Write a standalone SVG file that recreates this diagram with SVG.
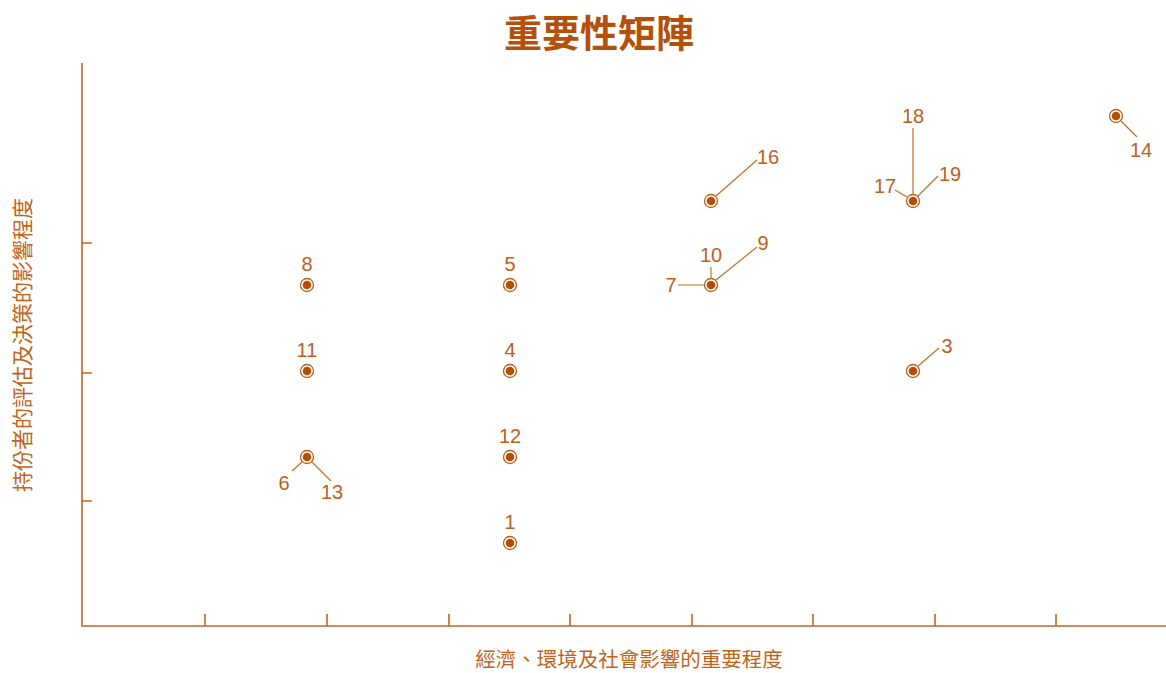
<svg xmlns="http://www.w3.org/2000/svg" width="1166" height="673" viewBox="0 0 1166 673">
<style>
.axis{stroke:#c0671f;stroke-width:1.6;fill:none}
.ld{stroke:#c0702c;stroke-width:1.2;fill:none}
.ring{fill:none;stroke:#bb5f17;stroke-width:1.3}
.dot{fill:#b24f00}
.num{font-family:"Liberation Sans",Arial,sans-serif;font-size:20px;fill:#bb6020;text-anchor:middle}
.cjk{font-family:"Noto Sans CJK TC","Noto Sans CJK SC",sans-serif;fill:#bf6419}
</style>
<defs>
<g id="pt"><circle r="6.5" class="ring"/><circle r="4.3" class="dot"/></g>
</defs>
<rect width="1166" height="673" fill="#ffffff"/>
<text class="cjk" x="599" y="47" font-size="38" font-weight="bold" text-anchor="middle" style="fill:#b5500a">重要性矩陣</text>
<g id="axes">
<path class="axis" d="M82 63V626H1166"/>
<path class="axis" d="M82 243H92M82 373H92M82 501H92"/>
<path class="axis" d="M205 626V614M327 626V614M449 626V614M570 626V614M692 626V614M813 626V614M935 626V614M1056 626V614"/>
</g>
<text class="cjk" font-size="21" text-anchor="middle" transform="translate(30 345) rotate(-90)">持份者的評估及決策的影響程度</text>
<text class="cjk" x="629" y="667" font-size="20.5" text-anchor="middle">經濟、環境及社會影響的重要程度</text>
<g id="connectors">
<path class="ld" d="M302 462L292 471M312 462L331 481"/>
<path class="ld" d="M716 196L757 160"/>
<path class="ld" d="M704 285H678M711 278V267M716 280L757 247"/>
<path class="ld" d="M918 366L939 348"/>
<path class="ld" d="M913 194V128M907 197L895 190M918 196L938 176"/>
<path class="ld" d="M1121 121L1137 137"/>
</g>
<g id="n8"><use href="#pt" x="307" y="285"/><text class="num" x="307" y="271">8</text></g>
<g id="n5"><use href="#pt" x="510" y="285"/><text class="num" x="510" y="271">5</text></g>
<g id="n11"><use href="#pt" x="307" y="371"/><text class="num" x="307" y="357">11</text></g>
<g id="n4"><use href="#pt" x="510" y="371"/><text class="num" x="510" y="357">4</text></g>
<g id="n12"><use href="#pt" x="510" y="457"/><text class="num" x="510" y="443">12</text></g>
<g id="n1"><use href="#pt" x="510" y="543"/><text class="num" x="510" y="529">1</text></g>
<g id="n6-13"><use href="#pt" x="307" y="457"/><text class="num" x="284" y="490">6</text><text class="num" x="332" y="499">13</text></g>
<g id="n16"><use href="#pt" x="711" y="201"/><text class="num" x="768" y="164">16</text></g>
<g id="n7-10-9"><use href="#pt" x="711" y="285"/><text class="num" x="671" y="292">7</text><text class="num" x="711" y="262">10</text><text class="num" x="763" y="250">9</text></g>
<g id="n3"><use href="#pt" x="913" y="371"/><text class="num" x="947" y="353">3</text></g>
<g id="n17-18-19"><use href="#pt" x="913" y="201"/><text class="num" x="913" y="123">18</text><text class="num" x="885" y="193">17</text><text class="num" x="950" y="181">19</text></g>
<g id="n14"><use href="#pt" x="1116" y="116"/><text class="num" x="1141" y="157">14</text></g>
</svg>
